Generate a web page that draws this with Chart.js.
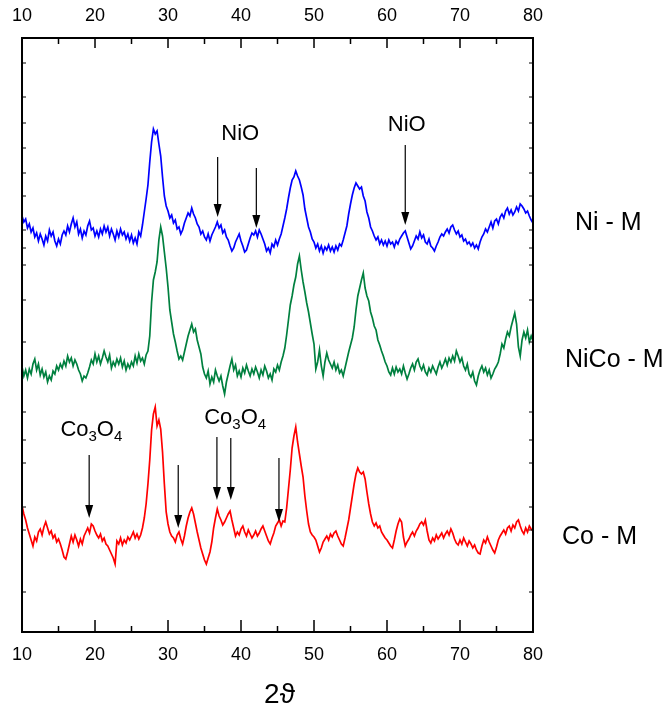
<!DOCTYPE html>
<html>
<head>
<meta charset="utf-8">
<script src="https://cdn.jsdelivr.net/npm/chart.js@4.4.1/dist/chart.umd.min.js"></script>
<style>
html, body { margin: 0; padding: 0; background: #fff; }
#wrap { width: 669px; height: 708px; position: relative; }
</style>
</head>
<body>
<div id="wrap"><canvas id="xrd"></canvas></div>
<script>
// 2theta grid (deg)
const twoTheta = [
  10,10.25,10.5,10.75,11,11.25,11.5,11.75,12,12.25,12.5,12.75,13,13.25,13.5,13.75,14,14.25,14.5,14.75,
  15,15.25,15.5,15.75,16,16.25,16.5,16.75,17,17.25,17.5,17.75,18,18.25,18.5,18.75,19,19.25,19.5,19.75,
  20,20.25,20.5,20.75,21,21.25,21.5,21.75,22,22.25,22.5,22.75,23,23.25,23.5,23.75,24,24.25,24.5,24.75,
  25,25.25,25.5,25.75,26,26.25,26.5,26.75,27,27.25,27.5,27.75,28,28.25,28.5,28.75,29,29.25,29.5,29.75,
  30,30.25,30.5,30.75,31,31.25,31.5,31.75,32,32.25,32.5,32.75,33,33.25,33.5,33.75,34,34.25,34.5,34.75,
  35,35.25,35.5,35.75,36,36.25,36.5,36.75,37,37.25,37.5,37.75,38,38.25,38.5,38.75,39,39.25,39.5,39.75,
  40,40.25,40.5,40.75,41,41.25,41.5,41.75,42,42.25,42.5,42.75,43,43.25,43.5,43.75,44,44.25,44.5,44.75,
  45,45.25,45.5,45.75,46,46.25,46.5,46.75,47,47.25,47.5,47.75,48,48.25,48.5,48.75,49,49.25,49.5,49.75,
  50,50.25,50.5,50.75,51,51.25,51.5,51.75,52,52.25,52.5,52.75,53,53.25,53.5,53.75,54,54.25,54.5,54.75,
  55,55.25,55.5,55.75,56,56.25,56.5,56.75,57,57.25,57.5,57.75,58,58.25,58.5,58.75,59,59.25,59.5,59.75,
  60,60.25,60.5,60.75,61,61.25,61.5,61.75,62,62.25,62.5,62.75,63,63.25,63.5,63.75,64,64.25,64.5,64.75,
  65,65.25,65.5,65.75,66,66.25,66.5,66.75,67,67.25,67.5,67.75,68,68.25,68.5,68.75,69,69.25,69.5,69.75,
  70,70.25,70.5,70.75,71,71.25,71.5,71.75,72,72.25,72.5,72.75,73,73.25,73.5,73.75,74,74.25,74.5,74.75,
  75,75.25,75.5,75.75,76,76.25,76.5,76.75,77,77.25,77.5,77.75,78,78.25,78.5,78.75,79,79.25,79.5,79.75,
  80
];

// intensities (a.u., curves already offset)
const niM = [
  416,410,413,404,408,400,404,395,399,391,398,393,387,396,391,402,396,400,391,386,
  393,388,397,401,397,406,400,408,414,405,410,398,403,394,401,397,406,411,402,404,
  396,401,395,403,398,406,400,405,396,403,398,392,401,395,403,397,400,393,398,391,
  397,389,394,388,400,396,407,420,433,447,470,490,503,498,501,488,476,455,436,426,
  421,414,417,409,412,403,405,398,402,409,414,419,416,424,418,414,408,405,398,401,
  395,392,398,391,397,401,405,410,404,407,399,402,395,392,386,381,384,390,394,398,
  391,386,380,382,388,394,399,397,401,395,402,398,393,388,381,384,379,388,385,392,
  387,393,398,406,414,423,434,444,452,455,461,456,452,445,437,423,414,405,400,393,
  390,384,388,381,386,379,385,382,387,381,385,380,386,382,388,386,392,399,406,418,
  428,437,444,449,446,443,445,436,431,420,414,405,401,396,392,395,388,392,387,391,
  386,392,388,390,385,391,388,393,396,399,401,395,389,383,386,391,396,393,400,394,
  397,390,388,393,386,384,381,386,390,395,398,396,400,403,399,405,407,402,398,401,
  395,397,391,393,388,390,386,389,384,387,383,390,395,398,403,400,405,410,404,411,
  413,408,415,418,414,421,424,418,422,417,420,425,421,428,426,423,419,421,416,412,
  409
];
const nicoM = [
  265,256,262,254,263,258,268,273,262,268,257,263,255,260,250,256,252,261,258,266,
  262,268,264,271,266,276,270,274,266,272,268,262,258,251,256,254,259,265,272,268,
  278,270,276,268,274,281,275,270,277,264,270,266,273,268,274,265,271,262,268,264,
  270,266,276,269,278,271,274,268,277,281,296,330,352,360,370,392,405,396,380,364,
  345,322,310,298,290,281,273,276,272,280,288,296,302,308,300,303,292,285,278,265,
  258,254,261,248,255,250,262,256,251,256,246,238,250,258,266,273,262,267,256,261,
  255,264,259,267,261,256,263,258,265,260,254,262,257,266,261,254,258,252,263,260,
  267,262,270,276,284,297,312,327,336,347,355,368,376,362,350,340,329,320,309,298,
  288,263,270,282,266,256,270,279,272,268,264,270,262,267,259,262,256,264,272,280,
  287,294,305,322,336,344,352,359,344,336,331,320,314,306,302,292,287,281,276,270,
  266,260,257,264,258,265,260,263,258,266,259,253,258,264,268,262,270,273,266,262,
  267,260,257,264,260,266,262,258,265,270,264,268,273,267,274,270,276,271,281,276,
  270,274,266,262,268,258,255,260,251,247,256,262,266,260,264,257,262,254,258,263,
  266,270,278,288,284,293,300,296,305,312,319,308,285,276,292,300,294,302,290,296,
  291
];
const coM = [
  126,118,112,104,98,92,86,95,91,100,103,97,105,110,104,98,101,94,97,90,
  93,88,82,75,73,80,88,96,90,97,92,86,93,88,96,100,104,99,108,106,
  101,97,94,98,91,94,88,86,82,78,74,68,91,88,94,87,92,89,95,92,
  96,100,94,98,93,97,104,114,128,148,172,202,218,225,206,212,203,180,148,120,
  108,100,96,94,90,97,100,93,88,96,106,114,120,124,118,109,100,92,84,78,
  72,68,74,80,90,104,114,123,116,112,107,110,114,118,121,112,104,96,100,97,
  103,106,100,96,102,98,94,97,101,96,99,103,106,101,96,91,88,94,99,106,
  109,112,106,111,110,124,143,162,184,196,205,190,178,166,155,136,121,108,100,97,
  95,92,86,80,84,90,93,96,92,98,95,99,101,96,92,88,86,94,103,112,
  124,136,148,158,164,160,158,160,153,140,128,118,110,106,109,104,106,100,97,94,
  92,89,86,84,92,101,108,113,110,95,86,90,93,97,100,96,101,104,108,110,
  107,112,101,92,89,94,91,97,93,96,99,94,98,101,97,103,99,93,89,87,
  92,88,94,90,86,91,88,84,87,82,79,78,86,92,89,95,90,86,82,79,
  85,92,96,99,102,98,104,106,101,107,104,110,112,106,101,98,104,100,106,103,
  101
];

const xMajorTicks = [10, 20, 30, 40, 50, 60, 70, 80];
const xMinorTicks = [15, 25, 35, 45, 55, 65, 75];
const yTickMarks = [569, 535, 509, 484, 459, 436, 402, 384, 367, 332, 290, 220, 192, 169, 125, 102, 40];

const sampleNames = ['Ni - M', 'NiCo - M', 'Co - M'];
const sampleNameLevel = [409, 272, 95];

// [2theta, from, to]
const nioArrows = [[36.8, 475, 415], [42.1, 464, 404], [62.5, 487, 407]];
const coArrows = [[19.2, 177, 114], [31.4, 167, 104], [36.7, 195, 132], [38.6, 194, 132], [45.2, 174, 110]];
// [text, 2theta, level]
const nioLabels = [['NiO', 39.9, 498], ['NiO', 62.7, 507]];
const coLabels = [[19.5, 202], [39.2, 214]];

const FONT = '"Liberation Sans", Arial, sans-serif';

function arrow(ctx, px, y0, y1) {
  const head = 13, half = 4;
  ctx.beginPath();
  ctx.moveTo(px, y0);
  ctx.lineTo(px, y1 - head);
  ctx.stroke();
  ctx.beginPath();
  ctx.moveTo(px - half, y1 - head);
  ctx.lineTo(px + half, y1 - head);
  ctx.lineTo(px, y1);
  ctx.closePath();
  ctx.fill();
}

function co3o4(ctx, cx, cy) {
  const big = '22px ' + FONT, small = '15px ' + FONT;
  const parts = [['Co', big, 0], ['3', small, 7], ['O', big, 0], ['4', small, 7]];
  let w = 0;
  parts.forEach(p => { ctx.font = p[1]; w += ctx.measureText(p[0]).width; });
  let x = cx - w / 2;
  ctx.textAlign = 'left';
  parts.forEach(p => {
    ctx.font = p[1];
    ctx.fillText(p[0], x, cy + p[2]);
    x += ctx.measureText(p[0]).width;
  });
}

const overlay = {
  id: 'overlay',
  afterDraw(chart) {
    const ctx = chart.ctx, a = chart.chartArea;
    const x = chart.scales.x, y = chart.scales.y;
    ctx.save();
    ctx.strokeStyle = '#000';
    ctx.fillStyle = '#000';
    ctx.lineWidth = 2;
    ctx.strokeRect(a.left, a.top, a.right - a.left, a.bottom - a.top);

    ctx.lineWidth = 1.5;
    ctx.beginPath();
    xMajorTicks.forEach(v => {
      const px = x.getPixelForValue(v);
      ctx.moveTo(px, a.top); ctx.lineTo(px, a.top + 10);
      ctx.moveTo(px, a.bottom); ctx.lineTo(px, a.bottom - 12);
    });
    xMinorTicks.forEach(v => {
      const px = x.getPixelForValue(v);
      ctx.moveTo(px, a.top); ctx.lineTo(px, a.top + 6);
      ctx.moveTo(px, a.bottom); ctx.lineTo(px, a.bottom - 6);
    });
    ctx.stroke();
    ctx.lineWidth = 1;
    ctx.beginPath();
    yTickMarks.forEach(v => {
      const py = y.getPixelForValue(v);
      ctx.moveTo(a.left, py); ctx.lineTo(a.left + 4, py);
      ctx.moveTo(a.right, py); ctx.lineTo(a.right - 4, py);
    });
    ctx.stroke();

    // arrows
    ctx.lineWidth = 1.2;
    nioArrows.concat(coArrows).forEach(r => {
      arrow(ctx, x.getPixelForValue(r[0]), y.getPixelForValue(r[1]), y.getPixelForValue(r[2]));
    });

    ctx.textBaseline = 'middle';
    ctx.textAlign = 'center';
    ctx.font = '22px ' + FONT;
    nioLabels.forEach(l => ctx.fillText(l[0], x.getPixelForValue(l[1]), y.getPixelForValue(l[2])));
    coLabels.forEach(l => co3o4(ctx, x.getPixelForValue(l[0]), y.getPixelForValue(l[1])));

    // sample names
    ctx.textAlign = 'left';
    ctx.font = '25px ' + FONT;
    const nameOffset = [42, 32, 29];
    sampleNames.forEach((n, i) => ctx.fillText(n, a.right + nameOffset[i], y.getPixelForValue(sampleNameLevel[i])));

    // axis title
    ctx.textAlign = 'center';
    ctx.font = '28px ' + FONT;
    ctx.fillText('2ϑ', (a.left + a.right) / 2 + 2, 695);
    ctx.restore();
  }
};

const pts = vals => twoTheta.map((t, i) => ({ x: t, y: vals[i] }));
const line = (label, vals, color) => ({
  label: label,
  data: pts(vals),
  borderColor: color,
  borderWidth: 1.7,
  pointRadius: 0,
  tension: 0,
  fill: false
});

const tickFont = { family: FONT, size: 18 };

new Chart(document.getElementById('xrd'), {
  type: 'line',
  data: {
    datasets: [
      line('Ni - M', niM, '#0000ff'),
      line('NiCo - M', nicoM, '#00803f'),
      line('Co - M', coM, '#ff0000')
    ]
  },
  options: {
    responsive: true,
    maintainAspectRatio: false,
    animation: false,
    layout: { padding: { left: 22, right: 136, top: 0, bottom: 0 } },
    plugins: { legend: { display: false }, tooltip: { enabled: false } },
    scales: {
      x: {
        type: 'linear', position: 'bottom', min: 10, max: 80,
        afterFit: s => { s.height = 76; },
        grid: { display: false, drawTicks: false },
        border: { display: false },
        ticks: { stepSize: 10, autoSkip: false, maxRotation: 0, color: '#000', font: tickFont, padding: 12 }
      },
      x2: {
        type: 'linear', position: 'top', min: 10, max: 80,
        afterFit: s => { s.height = 38; },
        grid: { display: false, drawTicks: false },
        border: { display: false },
        ticks: { stepSize: 10, autoSkip: false, maxRotation: 0, color: '#000', font: tickFont, padding: 11 }
      },
      y: { display: false, min: 0, max: 594 }
    }
  },
  plugins: [overlay]
});
</script>
</body>
</html>
